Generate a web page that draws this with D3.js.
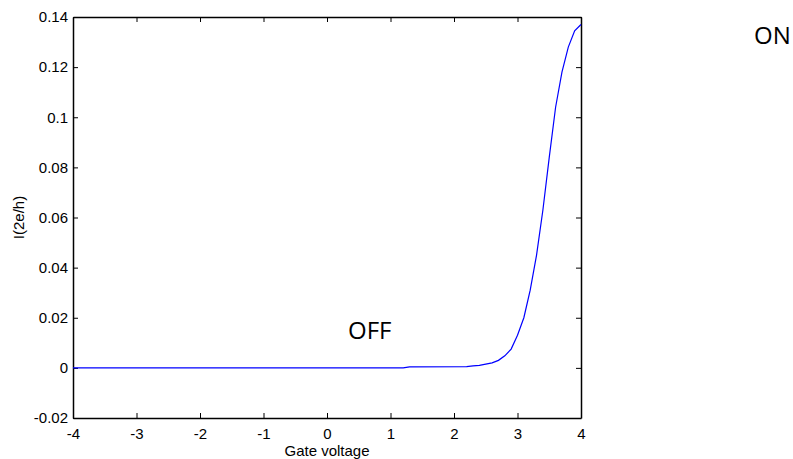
<!DOCTYPE html>
<html>
<head>
<meta charset="utf-8">
<script src="https://cdn.jsdelivr.net/npm/d3@7"></script>
<style>
  body { margin: 0; background: #fff; }
  svg { display: block; }
</style>
</head>
<body>
<div id="chart"></div>
<script>
const width = 793
const height = 459
const margin = ({ top: 17, right: 212, bottom: 41, left: 73 })

// gate voltage (V) and current I (2e/h)
const gateVoltage = [-4, 1.2, 1.3, 2.2, 2.3, 2.4, 2.5, 2.6, 2.7, 2.8, 2.9, 3.0, 3.1, 3.2, 3.3, 3.4, 3.5, 3.6, 3.7, 3.8, 3.9, 4.0]
const current = [0, 0, 0.0004, 0.0005, 0.0008, 0.001, 0.0015, 0.002, 0.003, 0.0048, 0.0075, 0.013, 0.020, 0.031, 0.045, 0.063, 0.084, 0.104, 0.118, 0.128, 0.1345, 0.137]

const xTicks = [-4, -3, -2, -1, 0, 1, 2, 3, 4]
const xTickLabels = ['-4', '-3', '-2', '-1', '0', '1', '2', '3', '4']
const yTicks = [-0.02, 0, 0.02, 0.04, 0.06, 0.08, 0.1, 0.12, 0.14]
const yTickLabels = ['-0.02', '0', '0.02', '0.04', '0.06', '0.08', '0.1', '0.12', '0.14']

const points = gateVoltage.map((v, i) => ({ x: v, y: current[i] }))

let xScale = d3.scaleLinear()
    .domain([-4, 4])
    .range([margin.left, width - margin.right])

let yScale = d3.scaleLinear()
    .domain([-0.02, 0.14])
    .range([height - margin.bottom, margin.top])

const font = '"Liberation Sans", Arial, sans-serif'

const svg = d3.select('#chart').append('svg')
    .attr('width', width)
    .attr('height', height)
    .style('font-family', font)

const tickLen = 5

// inward ticks on all four sides, like the matlab box
let xAxis = d3.axisBottom(xScale).tickValues(xTicks).tickSizeInner(-tickLen).tickSizeOuter(0).tickPadding(10)
    .tickFormat((d, i) => xTickLabels[i])
let xAxisTop = d3.axisTop(xScale).tickValues(xTicks).tickSizeInner(-tickLen).tickSizeOuter(0).tickFormat('')
let yAxis = d3.axisLeft(yScale).tickValues(yTicks).tickSizeInner(-tickLen).tickSizeOuter(0).tickPadding(5)
    .tickFormat((d, i) => yTickLabels[i])
let yAxisRight = d3.axisRight(yScale).tickValues(yTicks).tickSizeInner(-tickLen).tickSizeOuter(0).tickFormat('')

const axes = [
  [xAxis, `translate(0,${height - margin.bottom})`],
  [xAxisTop, `translate(0,${margin.top})`],
  [yAxis, `translate(${margin.left},0)`],
  [yAxisRight, `translate(${width - margin.right},0)`]
]
axes.forEach(([ax, tr]) => {
  const g = svg.append('g').attr('transform', tr).call(ax)
  g.select('.domain').attr('stroke', '#000').attr('stroke-width', 1.5)
  g.selectAll('.tick line').attr('stroke', '#000')
  g.selectAll('.tick text').attr('font-size', 15).attr('font-family', font).attr('fill', '#000')
})

// the curve
let line = d3.line().x(d => xScale(d.x)).y(d => yScale(d.y))
svg.append('path')
    .datum(points)
    .attr('d', line)
    .attr('fill', 'none')
    .attr('stroke', '#0000ff')
    .attr('stroke-width', 1.2)

// axis titles
svg.append('text')
    .attr('x', (margin.left + width - margin.right) / 2)
    .attr('y', 456)
    .attr('text-anchor', 'middle')
    .attr('font-size', 15)
    .text('Gate voltage')

svg.append('text')
    .attr('transform', `translate(24,${(margin.top + height - margin.bottom) / 2}) rotate(-90)`)
    .attr('text-anchor', 'middle')
    .attr('font-size', 15)
    .text('I(2e/h)')

// annotations
svg.append('text')
    .attr('x', 348)
    .attr('y', 339)
    .attr('font-family', '"Open Sans", sans-serif')
    .attr('font-size', 24)
    .text('OFF')

svg.append('text')
    .attr('x', 754)
    .attr('y', 44)
    .attr('font-family', '"Open Sans", sans-serif')
    .attr('font-size', 24)
    .text('ON')
</script>
</body>
</html>
